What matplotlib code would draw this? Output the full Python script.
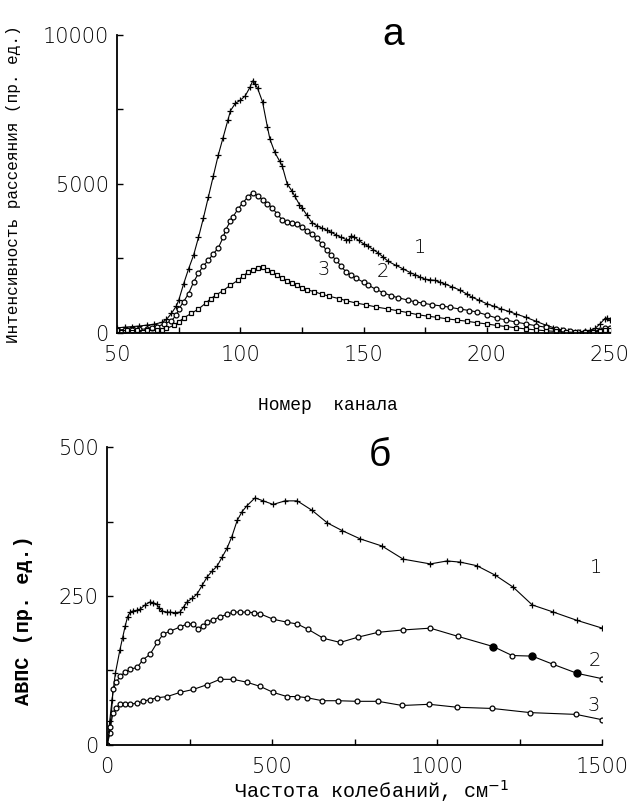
import numpy as np
import matplotlib.pyplot as plt

# panel a: scattering intensity vs channel number
ch1 = [50, 53, 56, 59, 62, 65, 68, 70, 72, 74, 75, 77, 79, 81, 83, 85, 87, 89, 91, 93,
       95, 96, 98, 100, 102, 104, 105, 106, 107, 109, 111, 112, 114, 116, 117, 119, 121,
       122, 124, 125, 127, 129, 131, 133, 135, 137, 139, 141, 143, 144, 145, 146, 148,
       150, 152, 154, 156, 158, 160, 163, 166, 169, 171, 173, 175, 177, 179, 181, 183,
       186, 189, 192, 194, 197, 200, 203, 206, 209, 212, 216, 220, 224, 227, 230, 233,
       236, 238, 240, 242, 244, 246, 248, 249, 250]
int1 = [170, 190, 210, 230, 260, 290, 350, 450, 650, 900, 1100, 1650, 2150, 2600, 3200,
        3850, 4550, 5250, 5950, 6550, 7150, 7450, 7700, 7800, 7950, 8250, 8450, 8350, 8200,
        7750, 6900, 6500, 6050, 5750, 5600, 5000, 4750, 4600, 4300, 4200, 3950, 3700, 3600,
        3520, 3450, 3370, 3280, 3200, 3130, 3120, 3250, 3230, 3100, 2990, 2900, 2790, 2680,
        2540, 2400, 2270, 2150, 2020, 1950, 1870, 1800, 1780, 1760, 1700, 1640, 1540, 1440,
        1300, 1200, 1090, 980, 890, 800, 720, 630, 520, 390, 260, 180, 110, 70, 40, 40, 60,
        90, 150, 300, 480, 500, 420]

ch2 = [50, 53, 56, 59, 62, 64, 66, 69, 72, 74, 75, 77, 79, 81, 83, 85, 87, 89, 91, 93, 94,
       96, 97, 99, 101, 103, 105, 107, 109, 111, 113, 115, 117, 119, 121, 123, 125, 127,
       129, 131, 133, 135, 137, 139, 141, 143, 145, 147, 150, 152, 155, 158, 161, 164, 168,
       171, 174, 178, 182, 185, 189, 193, 196, 200, 204, 208, 212, 216, 220, 224, 228, 231,
       234, 237, 240, 243, 246, 248, 250]
int2 = [100, 110, 110, 120, 130, 150, 200, 300, 400, 600, 800, 1050, 1320, 1700, 2000,
        2250, 2430, 2650, 2840, 3200, 3450, 3750, 3890, 4150, 4360, 4550, 4700, 4600, 4460,
        4330, 4190, 3980, 3790, 3720, 3700, 3650, 3550, 3420, 3300, 3180, 2980, 2770, 2600,
        2430, 2230, 2030, 1930, 1830, 1700, 1600, 1460, 1350, 1250, 1180, 1100, 1040, 1000,
        940, 900, 860, 800, 750, 700, 600, 500, 430, 360, 300, 240, 190, 120, 80, 50, 30,
        20, 40, 100, 150, 180]

ch3 = [50, 54, 58, 62, 66, 68, 70, 73, 75, 77, 80, 83, 86, 88, 90, 93, 96, 99, 101, 103,
       105, 107, 109, 111, 113, 115, 117, 119, 121, 123, 125, 127, 130, 133, 136, 140, 143,
       147, 151, 155, 160, 164, 168, 172, 176, 180, 184, 188, 192, 196, 200, 204, 208, 212,
       216, 220, 224, 228, 232, 236, 240, 243, 246, 248, 250]
int3 = [80, 80, 80, 80, 90, 100, 150, 250, 370, 500, 650, 800, 1000, 1150, 1260, 1420,
        1600, 1760, 1900, 2030, 2100, 2160, 2200, 2120, 2030, 1930, 1830, 1750, 1680, 1600,
        1520, 1450, 1380, 1300, 1230, 1150, 1080, 1000, 940, 870, 800, 740, 680, 610, 560,
        520, 470, 430, 390, 340, 300, 250, 210, 170, 130, 100, 70, 50, 30, 20, 20, 30, 60,
        80, 100]

# panel b: vibrational density of states vs frequency
nu1 = [0, 8, 15, 25, 39, 47, 55, 62, 70, 79, 90, 100, 115, 130, 140, 150, 158, 166, 180,
       191, 205, 221, 232, 242, 257, 272, 288, 303, 318, 333, 348, 363, 378, 394, 409, 424,
       448, 473, 503, 539, 576, 621, 667, 712, 767, 833, 897, 979, 1030, 1070, 1120, 1176,
       1230, 1288, 1352, 1424, 1500]
g1 = [0, 40, 76, 120, 160, 180, 200, 215, 223, 225, 226, 228, 235, 240, 239, 236, 230,
      225, 223, 223, 222, 223, 232, 240, 246, 253, 268, 282, 292, 300, 315, 330, 350, 377,
      392, 402, 415, 410, 404, 410, 410, 394, 373, 360, 346, 334, 312, 304, 309, 307, 301,
      285, 265, 235, 223, 209, 196]

nu2 = [0, 9, 18, 28, 39, 55, 70, 91, 109, 130, 152, 170, 191, 221, 242, 261, 276, 290,
       303, 322, 342, 362, 382, 403, 424, 444, 464, 503, 545, 576, 609, 655, 706, 761, 821,
       897, 979, 1064, 1170, 1227, 1288, 1352, 1424, 1500]
g2 = [0, 20, 93, 105, 115, 122, 127, 130, 143, 152, 172, 186, 191, 198, 203, 203, 194,
      200, 206, 210, 215, 219, 223, 223, 223, 222, 220, 211, 206, 203, 194, 179, 172, 181,
      189, 193, 196, 182, 165, 150, 149, 135, 120, 111]

nu3 = [0, 10, 18, 28, 39, 55, 70, 90, 109, 130, 152, 182, 221, 261, 303, 342, 382, 424,
       464, 503, 545, 576, 606, 652, 700, 758, 821, 894, 976, 1061, 1167, 1282, 1421, 1500]
g3 = [0, 30, 54, 62, 68, 68, 68, 70, 73, 76, 79, 81, 88, 93, 101, 110, 110, 105, 98, 88,
      81, 81, 79, 74, 74, 73, 73, 66, 68, 63, 61, 54, 51, 42]

MONO = 'Liberation Mono'
TICK_FONT = 'DejaVu Sans'


def style_axes(ax):
    for side in ('top', 'right'):
        ax.spines[side].set_visible(False)
    for side in ('left', 'bottom'):
        ax.spines[side].set_linewidth(1.3)
    ax.tick_params(which='both', direction='in', length=4, width=1, labelsize=15)
    ax.tick_params(axis='x', pad=9)
    ax.tick_params(axis='y', pad=6)
    for lab in ax.get_xticklabels() + ax.get_yticklabels():
        lab.set_fontfamily(TICK_FONT)
        lab.set_fontweight('light')


fig = plt.figure(figsize=(6.3, 8.06), dpi=100)

# --- panel a ---
ax1 = fig.add_axes([0.186, 0.587, 0.782, 0.37])
ax1.plot(ch1, int1, color='black', lw=0.8, marker='+', ms=5, mew=0.9)
ax1.plot(ch2, int2, color='black', lw=0.8, marker='o', ms=3.5, mfc='white', mew=0.9)
ax1.plot(ch3, int3, color='black', lw=0.8, marker='s', ms=3.5, mfc='white', mew=0.9)
ax1.set_xlim(50, 250)
ax1.set_ylim(0, 10000)
ax1.set_xticks([50, 100, 150, 200, 250])
ax1.set_xticks([75, 125, 175, 225], minor=True)
ax1.set_yticks([0, 5000, 10000])
ax1.set_yticks([2500, 7500], minor=True)
style_axes(ax1)
ax1.set_xlabel('Номер  канала', fontfamily=MONO, fontsize=13)
ax1.xaxis.set_label_coords(0.428, -0.215)
ax1.set_ylabel('Интенсивность рассеяния (пр. ед.)', fontfamily=MONO, fontsize=11.5)
ax1.yaxis.set_label_coords(-0.195, 0.5)
ax1.text(0.56, 1.0, 'а', transform=ax1.transAxes, fontsize=28, ha='center', va='center',
         fontfamily='Liberation Sans')
ax1.text(173, 2550, '1', fontsize=14, ha='center', va='bottom', fontfamily=TICK_FONT,
         fontweight='light')
ax1.text(158, 1750, '2', fontsize=14, ha='center', va='bottom', fontfamily=TICK_FONT,
         fontweight='light')
ax1.text(134, 1800, '3', fontsize=14, ha='center', va='bottom', fontfamily=TICK_FONT,
         fontweight='light')

# --- panel b ---
ax2 = fig.add_axes([0.170, 0.076, 0.786, 0.369])
filled = [38, 40, 42]
ax2.plot(nu1, g1, color='black', lw=0.8, marker='+', ms=5, mew=0.9)
ax2.plot(nu2, g2, color='black', lw=0.8, marker='o', ms=3.5, mfc='white', mew=0.9)
ax2.plot([nu2[i] for i in filled], [g2[i] for i in filled], ls='none', marker='o',
         ms=5, color='black')
ax2.plot(nu3, g3, color='black', lw=0.8, marker='o', ms=3.5, mfc='white', mew=0.9)
ax2.set_xlim(0, 1500)
ax2.set_ylim(0, 500)
ax2.set_xticks([0, 500, 1000, 1500])
ax2.set_xticks([250, 750, 1250], minor=True)
ax2.set_yticks([0, 250, 500])
ax2.set_yticks([125, 375], minor=True)
style_axes(ax2)
ax2.set_xlabel('Частота колебаний, см$^{-1}$', fontfamily=MONO, fontsize=14.5)
ax2.xaxis.set_label_coords(0.535, -0.112)
ax2.set_ylabel('АВПС (пр. ед.)', fontfamily=MONO, fontsize=14.5, fontweight='bold')
ax2.yaxis.set_label_coords(-0.15, 0.42)
ax2.text(0.55, 0.97, 'б', transform=ax2.transAxes, fontsize=28, ha='center', va='center',
         fontfamily='Liberation Sans')
ax2.text(1482, 282, '1', fontsize=14, ha='center', va='bottom', fontfamily=TICK_FONT,
         fontweight='light')
ax2.text(1479, 125, '2', fontsize=14, ha='center', va='bottom', fontfamily=TICK_FONT,
         fontweight='light')
ax2.text(1473, 50, '3', fontsize=14, ha='center', va='bottom', fontfamily=TICK_FONT,
         fontweight='light')

fig.savefig('out.png', dpi=100)
